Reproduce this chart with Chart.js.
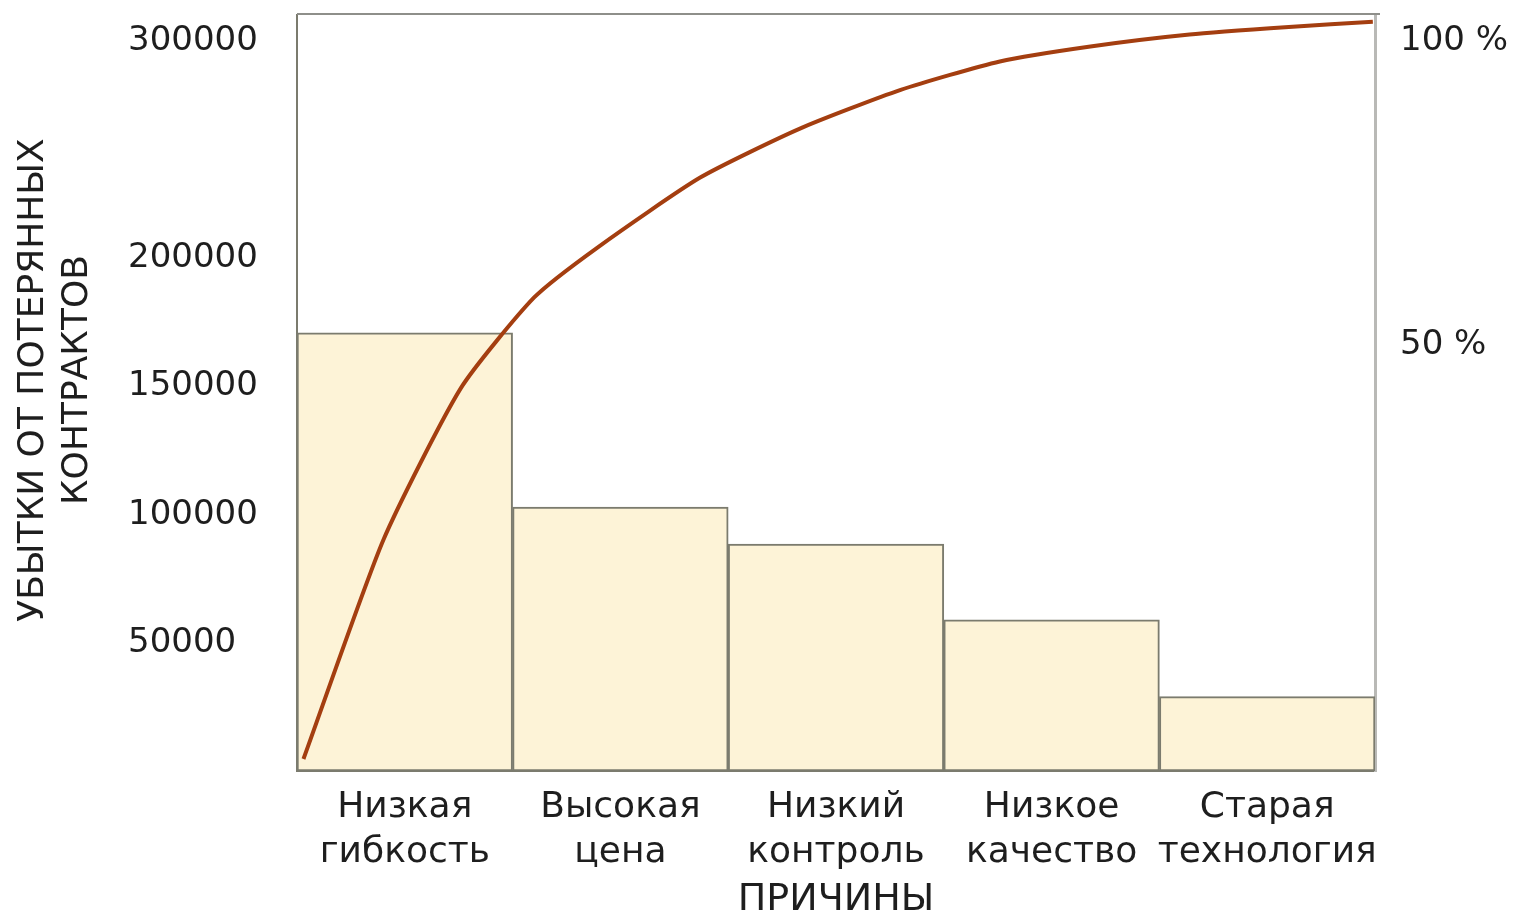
<!DOCTYPE html>
<html lang="ru">
<head>
<meta charset="utf-8">
<title>Диаграмма Парето: убытки от потерянных контрактов</title>
<script src="https://cdn.jsdelivr.net/npm/chart.js@4/dist/chart.umd.min.js"></script>
<style>
  html, body { margin: 0; padding: 0; background: #ffffff; }
  canvas { display: block; }
</style>
</head>
<body>
<canvas id="pareto" width="1514" height="919"></canvas>
<script>
// Причины потери контрактов (подписи категорий, по две строки)
const causes = [
  ['Низкая', 'гибкость'],
  ['Высокая', 'цена'],
  ['Низкий', 'контроль'],
  ['Низкое', 'качество'],
  ['Старая', 'технология']
];

// Убытки по каждой причине
const losses = [171000, 103000, 88500, 59000, 29000];

// Накопленная кривая: положение вдоль оси причин и накопленный процент
const cumPos = [-0.47, -0.1, 0.26, 0.6, 0.9, 1.37, 1.83, 2.3, 2.76, 3.18, 3.64, 4.1, 4.49];
const cumPct = [1.6, 30.8, 51.1, 63.2, 70.0, 79.2, 85.7, 90.9, 94.7, 96.7, 98.3, 99.3, 100];

// Подписи осей
const lossTicks = [50000, 100000, 150000, 200000, 300000];
const pctTicks = [50, 100];
const yTitle = ['УБЫТКИ ОТ ПОТЕРЯННЫХ', 'КОНТРАКТОВ'];
const xTitle = 'ПРИЧИНЫ';

const TEXT = '#1e1e1e';
const FONT = 'DejaVu Sans';

// Оси не добавляют собственных отступов под крайние подписи
function noEdgePadding(scale) {
  scale.paddingTop = 0;
  scale.paddingBottom = 0;
  scale.paddingLeft = 0;
  scale.paddingRight = 0;
}

// Рамка сверху и вертикальный заголовок слева
const framePlugin = {
  id: 'frame',
  afterDraw(chart) {
    const { ctx, chartArea } = chart;
    ctx.save();
    ctx.strokeStyle = '#8e8f8a';
    ctx.lineWidth = 2;
    ctx.beginPath();
    ctx.moveTo(chartArea.left, chartArea.top - 1);
    ctx.lineTo(chartArea.right + 5, chartArea.top - 1);
    ctx.stroke();

    ctx.fillStyle = TEXT;
    ctx.font = '36px "' + FONT + '"';
    ctx.textAlign = 'center';
    ctx.textBaseline = 'middle';
    const cy = (chartArea.top + chartArea.bottom) / 2 - 13;
    [34, 78].forEach((cx, i) => {
      ctx.save();
      ctx.translate(cx, cy);
      ctx.rotate(-Math.PI / 2);
      ctx.fillText(yTitle[i], 0, 0);
      ctx.restore();
    });
    ctx.restore();
  }
};

new Chart(document.getElementById('pareto'), {
  data: {
    labels: causes,
    datasets: [
      {
        type: 'line',
        order: 0,
        xAxisID: 'xc',
        yAxisID: 'yc',
        data: cumPos.map((p, i) => ({ x: p, y: cumPct[i] })),
        borderColor: '#a43e10',
        borderWidth: 4,
        pointRadius: 0,
        tension: 0.2,
        fill: false
      },
      {
        type: 'bar',
        order: 1,
        xAxisID: 'x',
        yAxisID: 'y',
        data: losses,
        grouped: false,
        backgroundColor: '#fdf3d7',
        borderColor: '#7b7b6e',
        borderWidth: 2,
        borderSkipped: false,
        barPercentage: 1,
        categoryPercentage: 1
      }
    ]
  },
  options: {
    responsive: false,
    animation: false,
    devicePixelRatio: 1,
    layout: { padding: { left: 128, top: 15, right: 0, bottom: 0 } },
    plugins: {
      legend: { display: false },
      tooltip: { enabled: false }
    },
    scales: {
      x: {
        type: 'category',
        position: 'bottom',
        grid: { display: false, drawTicks: false },
        border: { display: true, color: '#7b7b6e', width: 2 },
        ticks: {
          color: TEXT,
          padding: 14,
          maxRotation: 0,
          autoSkip: false,
          font: { family: FONT, size: 36, lineHeight: 1.25 }
        },
        title: {
          display: true,
          text: xTitle,
          color: TEXT,
          padding: { top: 0, bottom: 0 },
          font: { family: FONT, size: 38, lineHeight: 1 }
        },
        afterFit(scale) { scale.height = 148; noEdgePadding(scale); }
      },
      xc: {
        type: 'linear',
        display: false,
        min: -0.5,
        max: 4.5
      },
      y: {
        type: 'linear',
        position: 'left',
        min: 0,
        max: 295000,
        grid: { display: false, drawTicks: false },
        border: { display: true, color: '#7b7b6e', width: 2 },
        afterBuildTicks(scale) {
          // верхняя подпись ставится у верхнего края оси
          scale.ticks = lossTicks.map(v => ({ value: v > scale.max ? scale.max * 0.966 : v }));
        },
        ticks: {
          color: TEXT,
          crossAlign: 'far',
          font: { family: FONT, size: 34 },
          callback: (v, i) => String(lossTicks[i])
        },
        afterFit(scale) { scale.width = 169; noEdgePadding(scale); }
      },
      yc: {
        type: 'linear',
        display: false,
        min: 0,
        max: 100.9
      },
      yp: {
        type: 'linear',
        position: 'right',
        min: -20.1,
        max: 104.3,
        grid: { display: false, drawTicks: false },
        border: { display: true, color: '#b9b9b6', width: 3 },
        afterBuildTicks(scale) {
          scale.ticks = pctTicks.map(v => ({ value: v }));
        },
        ticks: {
          color: TEXT,
          padding: 25,
          font: { family: FONT, size: 34 },
          callback: v => v + ' %'
        },
        afterFit(scale) { scale.width = 139; noEdgePadding(scale); }
      }
    }
  },
  plugins: [framePlugin]
});
</script>
</body>
</html>
